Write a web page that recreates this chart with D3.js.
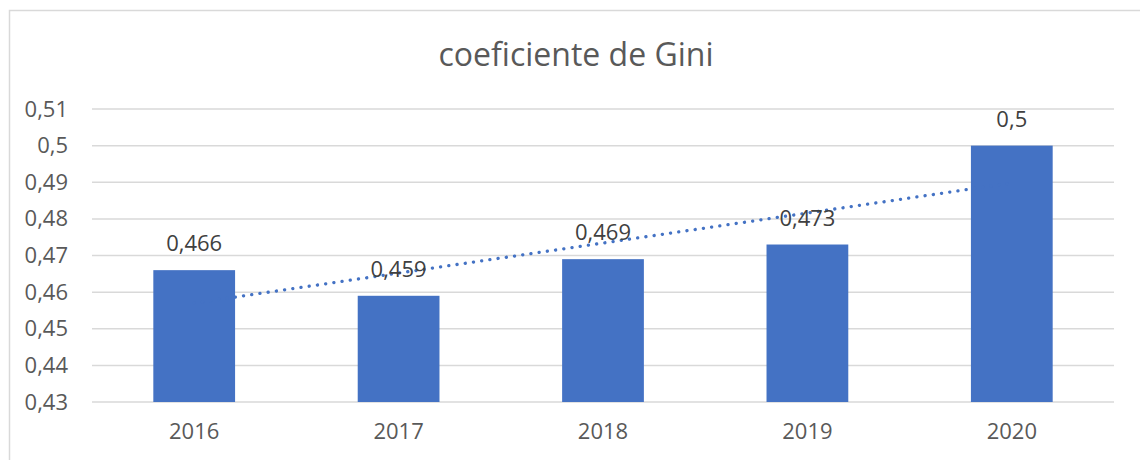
<!DOCTYPE html>
<html>
<head>
<meta charset="utf-8">
<script src="https://cdn.jsdelivr.net/npm/d3@7"></script>
<style>
  body { margin: 0; background: #fff; }
  svg { display: block; font-family: "Open Sans", "Noto Sans", sans-serif; }
</style>
</head>
<body>
<svg id="chart" width="1140" height="460"></svg>
<script>
// data
let years = ['2016', '2017', '2018', '2019', '2020'];
let gini = [0.466, 0.459, 0.469, 0.473, 0.5];
let yTicks = [0.43, 0.44, 0.45, 0.46, 0.47, 0.48, 0.49, 0.5, 0.51];
let title = 'coeficiente de Gini';

const width = 1140, height = 460;
const margin = {top: 109, right: 26, bottom: 58, left: 92};

const svg = d3.select('#chart');

// comma as decimal separator
const locale = d3.formatLocale({decimal: ',', thousands: '.', grouping: [3], currency: ['', '']});
const fmt = locale.format('~g');

// outer chart border (only left and top are visible)
svg.append('rect')
  .attr('x', 9.5).attr('y', 10.5)
  .attr('width', width + 20).attr('height', height + 20)
  .attr('fill', 'none').attr('stroke', '#d9d9d9').attr('stroke-width', 1.5);

const x = d3.scaleBand()
  .domain(years)
  .range([margin.left, width - margin.right])
  .paddingInner(0.6)
  .paddingOuter(0.3);

const y = d3.scaleLinear()
  .domain([0.43, 0.51])
  .range([height - margin.bottom, margin.top]);

// gridlines
svg.append('g')
  .selectAll('line')
  .data(yTicks)
  .join('line')
  .attr('x1', margin.left).attr('x2', width - margin.right)
  .attr('y1', d => y(d)).attr('y2', d => y(d))
  .attr('stroke', '#d9d9d9').attr('stroke-width', 1.5);

// y axis labels
const yAxis = d3.axisLeft(y).tickValues(yTicks).tickFormat(fmt).tickSize(0).tickPadding(24);
svg.append('g')
  .attr('transform', `translate(${margin.left},0)`)
  .call(yAxis)
  .call(g => g.select('.domain').remove())
  .selectAll('text')
  .attr('font-size', 22).attr('font-family', '"Open Sans", sans-serif').attr('fill', '#595959');

// x axis labels
const xAxis = d3.axisBottom(x).tickSize(0).tickPadding(21);
svg.append('g')
  .attr('transform', `translate(0,${y(0.43)})`)
  .call(xAxis)
  .call(g => g.select('.domain').remove())
  .selectAll('text')
  .attr('font-size', 22).attr('font-family', '"Open Sans", sans-serif').attr('fill', '#595959');

// bars
svg.append('g')
  .selectAll('rect')
  .data(gini)
  .join('rect')
  .attr('x', (d, i) => x(years[i]))
  .attr('y', d => y(d))
  .attr('width', x.bandwidth())
  .attr('height', d => y(0.43) - y(d))
  .attr('fill', '#4472c4');

// linear trendline (least squares over the bars)
const n = gini.length;
const mx = d3.mean(gini, (d, i) => i);
const my = d3.mean(gini);
const slope = d3.sum(gini, (d, i) => (i - mx) * (d - my)) / d3.sum(gini, (d, i) => (i - mx) * (i - mx));
const icpt = my - slope * mx;
const trend = [0, n - 1].map(i => [x(years[i]) + x.bandwidth() / 2, y(icpt + slope * i)]);

svg.append('path')
  .attr('d', d3.line()(trend))
  .attr('fill', 'none')
  .attr('stroke', '#4472c4')
  .attr('stroke-width', 3.3)
  .attr('stroke-linecap', 'round')
  .attr('stroke-dasharray', '0.1 8.2');

// data labels
svg.append('g')
  .selectAll('text')
  .data(gini)
  .join('text')
  .attr('x', (d, i) => x(years[i]) + x.bandwidth() / 2)
  .attr('y', d => y(d) - 19)
  .attr('text-anchor', 'middle')
  .attr('font-size', 22)
  .attr('fill', '#404040')
  .text(d => fmt(d));

// title
svg.append('text')
  .attr('x', 576).attr('y', 66)
  .attr('text-anchor', 'middle')
  .attr('font-size', 32)
  .attr('fill', '#595959')
  .text(title);
</script>
</body>
</html>
